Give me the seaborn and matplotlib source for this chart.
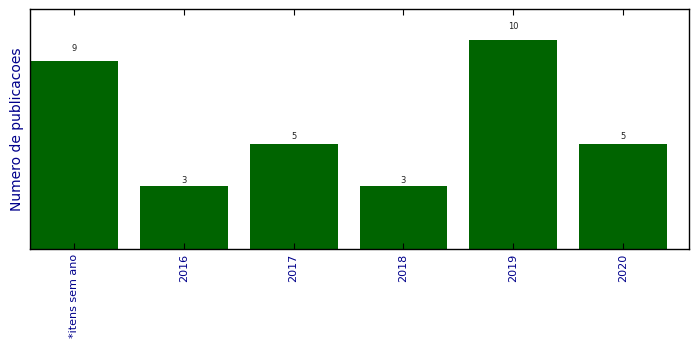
import matplotlib
matplotlib.use("Agg")
import matplotlib.pyplot as plt
import seaborn as sns
import pandas as pd

categories = ["*itens sem ano", "2016", "2017", "2018", "2019", "2020"]
values = [9, 3, 5, 3, 10, 5]

df = pd.DataFrame({"cat": categories, "val": values})

fig = plt.figure(figsize=(6.99, 3.49), dpi=100)
ax = fig.add_axes([30/699, 1-249/349, (689-30)/699, (249-9)/349])
sns.barplot(data=df, x="cat", y="val", color="#006400", saturation=1, width=0.8,
            edgecolor="none", ax=ax)
ax.set_xlim(-0.4, 5.6)
ax.set_ylim(0, 11.48)
ax.set_yticks([])
ax.set_xlabel("")
ax.set_ylabel("Numero de publicacoes", color="darkblue", fontsize=10)
ax.tick_params(axis="x", direction="in", top=True, bottom=True, length=4,
               labelcolor="darkblue", labelsize=8, labelrotation=90)
for s in ax.spines.values():
    s.set_color("black")
    s.set_linewidth(1)
for i, v in enumerate(values):
    ax.text(i, v * 1.05, str(v), ha="center", va="baseline", fontsize=6, color="#222222")
fig.savefig("out.png", dpi=100)
